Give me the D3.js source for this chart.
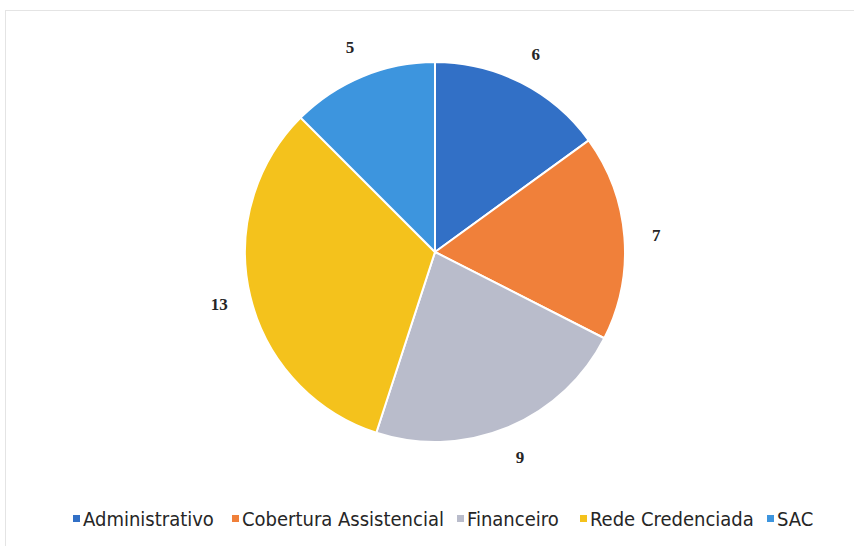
<!DOCTYPE html>
<html><head><meta charset="utf-8">
<script src="https://cdn.jsdelivr.net/npm/d3@7"></script>
<style>body{margin:0;background:#fff}</style>
</head><body>
<svg id="c" width="854" height="546"></svg>
<script>
const categories = ["Administrativo","Cobertura Assistencial","Financeiro","Rede Credenciada","SAC"];
const values = [6,7,9,13,5];
const colors = ["#3270c6","#f0803a","#b9bccb","#f4c21c","#3d95de"];

const svg = d3.select("#c");
svg.append("rect").attr("x",5.5).attr("y",10.5).attr("width",900).attr("height",600)
  .attr("fill","none").attr("stroke","#e4e4e4");

const cx=435, cy=252, r=190;
const g = svg.append("g").attr("transform",`translate(${cx},${cy})`);
const pie = d3.pie().sort(null).value(d=>d.v);
const data = pie(categories.map((c,i)=>({c,v:values[i],col:colors[i]})));
const arc = d3.arc().innerRadius(0).outerRadius(r);
g.selectAll("path").data(data).join("path").attr("d",arc)
  .attr("fill",d=>d.data.col).attr("stroke","#fff").attr("stroke-width",2);
const lab = d3.arc().innerRadius(222).outerRadius(222);
g.selectAll("text").data(data).join("text")
  .attr("transform",d=>`translate(${lab.centroid(d)})`)
  .attr("text-anchor","middle").attr("dy","0.35em")
  .attr("font-family","Liberation Serif, serif").attr("font-weight","bold")
  .attr("font-size",17).attr("fill","#262626").text(d=>d.data.v);

const legX=[73,232,457,580,767];
const lg = svg.append("g");
categories.forEach((c,i)=>{
  lg.append("rect").attr("x",legX[i]).attr("y",515).attr("width",7).attr("height",7).attr("fill",colors[i]);
  lg.append("text").attr("x",legX[i]+10).attr("y",519).attr("dy","0.35em")
    .attr("font-family","DejaVu Sans Condensed, sans-serif")
    .attr("font-size",20).attr("fill","#262626").text(c);
});
</script>
</body></html>
